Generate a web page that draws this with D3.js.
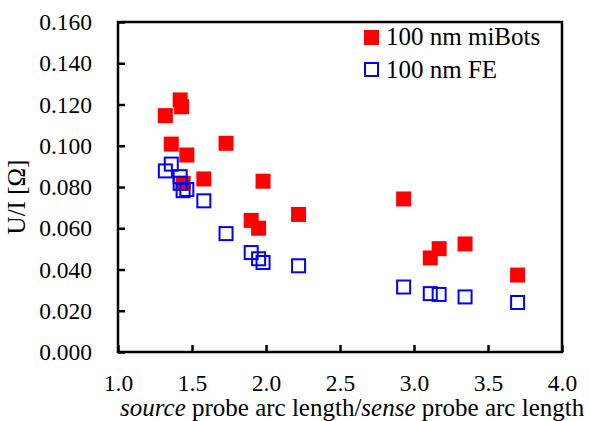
<!DOCTYPE html>
<html>
<head>
<meta charset="utf-8">
<script src="https://cdnjs.cloudflare.com/ajax/libs/d3/7.8.5/d3.min.js"></script>
<style>
  body { margin: 0; background: #fff; }
</style>
</head>
<body>
<svg id="chart"></svg>
<script>
// values
var xTicks = [1.0, 1.5, 2.0, 2.5, 3.0, 3.5, 4.0];
var yTicks = [0, 0.02, 0.04, 0.06, 0.08, 0.10, 0.12, 0.14, 0.16];

var seriesNames = ["100 nm miBots", "100 nm FE"];

var miBotsX = [1.32, 1.36, 1.42, 1.43, 1.44, 1.465, 1.58, 1.73, 1.90, 1.95, 1.98, 2.22, 2.93, 3.11, 3.17, 3.345, 3.70];
var miBotsY = [0.1146, 0.1008, 0.1222, 0.1189, 0.0818, 0.0955, 0.0839, 0.1012, 0.0638, 0.0600, 0.0828, 0.0667, 0.0742, 0.0456, 0.0501, 0.0524, 0.0373];

var feX = [1.32, 1.36, 1.42, 1.42, 1.44, 1.465, 1.58, 1.73, 1.90, 1.95, 1.98, 2.22, 2.93, 3.11, 3.17, 3.345, 3.70];
var feY = [0.0878, 0.0911, 0.0850, 0.0818, 0.0782, 0.0788, 0.0733, 0.0574, 0.0482, 0.0452, 0.0434, 0.0418, 0.0315, 0.0283, 0.0279, 0.0267, 0.0240];

var w = 590,
    h = 421;

var plot = { left: 118, right: 562, top: 22, bottom: 352 };
var markSize = 15;
var serif = "'Liberation Serif', Tinos, 'Times New Roman', 'DejaVu Serif', serif";

var xscale = d3.scaleLinear()
  .domain([1, 4])
  .range([plot.left, plot.right]);

var yscale = d3.scaleLinear()
  .domain([0, 0.16])
  .range([plot.bottom, plot.top]);

var svg = d3.select("#chart")
  .attr("width", w)
  .attr("height", h)
  .attr("font-family", serif);

// x axis (ticks point inward)
var xAxis = d3.axisBottom(xscale)
  .tickValues(xTicks)
  .tickFormat(d3.format(".1f"))
  .tickSizeInner(-7)
  .tickSizeOuter(0)
  .tickPadding(22);

var gx = svg.append("g")
  .attr("transform", "translate(0," + plot.bottom + ")")
  .call(xAxis)
  .attr("font-family", serif)
  .attr("font-size", 23.5);
gx.select(".domain").remove();
gx.selectAll("line").attr("stroke", "#000").attr("stroke-width", 2.5);

// y axis
var yAxis = d3.axisLeft(yscale)
  .tickValues(yTicks)
  .tickFormat(d3.format(".3f"))
  .tickSizeInner(-7)
  .tickSizeOuter(0)
  .tickPadding(26);

var gy = svg.append("g")
  .attr("transform", "translate(" + plot.left + ",0)")
  .call(yAxis)
  .attr("font-family", serif)
  .attr("font-size", 23.5);
gy.select(".domain").remove();
gy.selectAll("line").attr("stroke", "#000").attr("stroke-width", 2.5);

// frame
svg.append("rect")
  .attr("x", plot.left)
  .attr("y", plot.top)
  .attr("width", plot.right - plot.left)
  .attr("height", plot.bottom - plot.top)
  .attr("fill", "none")
  .attr("stroke", "#000")
  .attr("stroke-width", 2.5);

//miBots - filled red squares
svg.append("g").selectAll("rect")
  .data(miBotsX)
  .enter()
  .append("rect")
  .attr("x", function(d){ return xscale(d) - markSize / 2; })
  .attr("y", function(d, i){ return yscale(miBotsY[i]) - markSize / 2; })
  .attr("width", markSize)
  .attr("height", markSize)
  .attr("fill", "#ff0000");

//FE - open blue squares
svg.append("g").selectAll("rect")
  .data(feX)
  .enter()
  .append("rect")
  .attr("x", function(d){ return xscale(d) - (markSize - 2) / 2; })
  .attr("y", function(d, i){ return yscale(feY[i]) - (markSize - 2) / 2; })
  .attr("width", markSize - 2)
  .attr("height", markSize - 2)
  .attr("fill", "none")
  .attr("stroke", "#0000ff")
  .attr("stroke-width", 2);

// legend
var legend = svg.append("g").attr("transform", "translate(364,30)");
legend.append("rect")
  .attr("width", markSize).attr("height", markSize)
  .attr("fill", "#ff0000");
legend.append("rect")
  .attr("x", 1).attr("y", 33)
  .attr("width", markSize - 2).attr("height", markSize - 2)
  .attr("fill", "none")
  .attr("stroke", "#0000ff")
  .attr("stroke-width", 2);
legend.selectAll(".legendText")
  .data(seriesNames)
  .enter()
  .append("text")
  .attr("class", "legendText")
  .attr("x", 22)
  .attr("y", function(d, i){ return 15 + i * 32.5; })
  .attr("font-size", 25)
  .text(function(d){ return d; });

// axis titles
svg.append("text")
  .attr("transform", "translate(25,197) rotate(-90)")
  .attr("text-anchor", "middle")
  .attr("font-size", 25)
  .text("U/I [\u03A9]");

var xTitle = svg.append("text")
  .attr("x", 120)
  .attr("y", 416)
  .attr("font-size", 25);
xTitle.append("tspan").attr("font-style", "italic").text("source");
xTitle.append("tspan").text(" probe arc length/");
xTitle.append("tspan").attr("font-style", "italic").text("sense");
xTitle.append("tspan").text(" probe arc length");
</script>
</body>
</html>
